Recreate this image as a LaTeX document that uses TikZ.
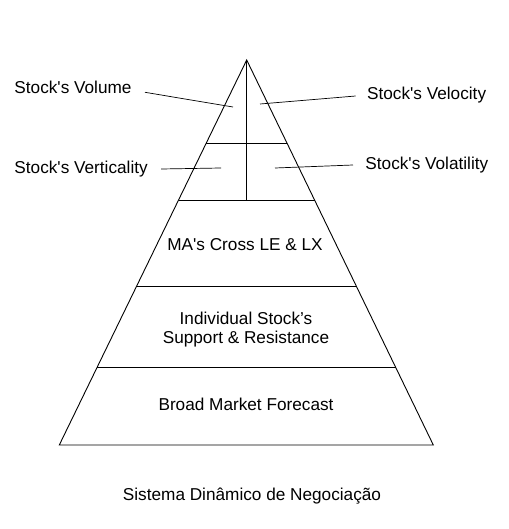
\documentclass[tikz,border=0pt]{standalone}
\usepackage{fontspec}
\setmainfont{Liberation Sans}
\usetikzlibrary{calc}
\newcommand{\sq}{\textquotesingle}
\begin{document}
\begin{tikzpicture}[x=1pt,y=-1pt,line cap=butt,line join=miter,line width=.9pt,
		font=\fontsize{17.2}{18.4}\selectfont]
	\tikzset{lbl/.style={inner sep=0pt,anchor=base west},
		mid/.style={inner sep=0pt,anchor=base,align=center}
	}
	\useasboundingbox (0,0) rectangle (508,529);
	% pyramid
	\coordinate (apex) at (246.7,60);
	\coordinate (baseL) at (59.3,445);
	\coordinate (baseR) at (433.3,445);
	\foreach \n/\t in {1/.2164,2/.3636,3/.587,4/.7992}{
		\coordinate (lvL\n) at ($(apex)!\t!(baseL)$);
		\coordinate (lvR\n) at ($(apex)!\t!(baseR)$);
	}
	\draw (apex)--(baseL)--(baseR)--cycle;
	\foreach \n in {1,...,4}
		\draw (lvL\n)--(lvR\n);
	\draw (apex)--(apex|-lvL2);
	% levels
	\node[mid] (macross) at (245,250) {MA\sq s Cross LE \& LX};
	\node[mid] (support) at (246,343) {Individual Stock’s\\Support \& Resistance};
	\node[mid] (broad) at (246,410.7) {Broad Market Forecast};
	\node[mid] (title) at (252,500.7) {Sistema Dinâmico de Negociação};
	% top labels
	\node[lbl] (vol) at (14,93.3) {Stock\sq s Volume};
	\node[lbl] (vel) at (366.7,100) {Stock\sq s Velocity};
	\node[lbl] (vert) at (14,174) {Stock\sq s Verticality};
	\node[lbl] (vola) at (365,170) {Stock\sq s Volatility};
	\coordinate (volpt) at (233,107);
	\coordinate (velpt) at (260,104);
	\coordinate (vertpt) at (221,168);
	\coordinate (volapt) at (275,168);
	\draw[line width=.7pt] (vol.base east)++(13,-1)--(volpt);
	\draw[line width=.7pt] (vel.base west)++(-11,-4)--(velpt);
	\draw[line width=.7pt] (vert.base east)++(13,-5)--(vertpt);
	\draw[line width=.7pt] (vola.base west)++(-12,-5)--(volapt);
\end{tikzpicture}
\end{document}
